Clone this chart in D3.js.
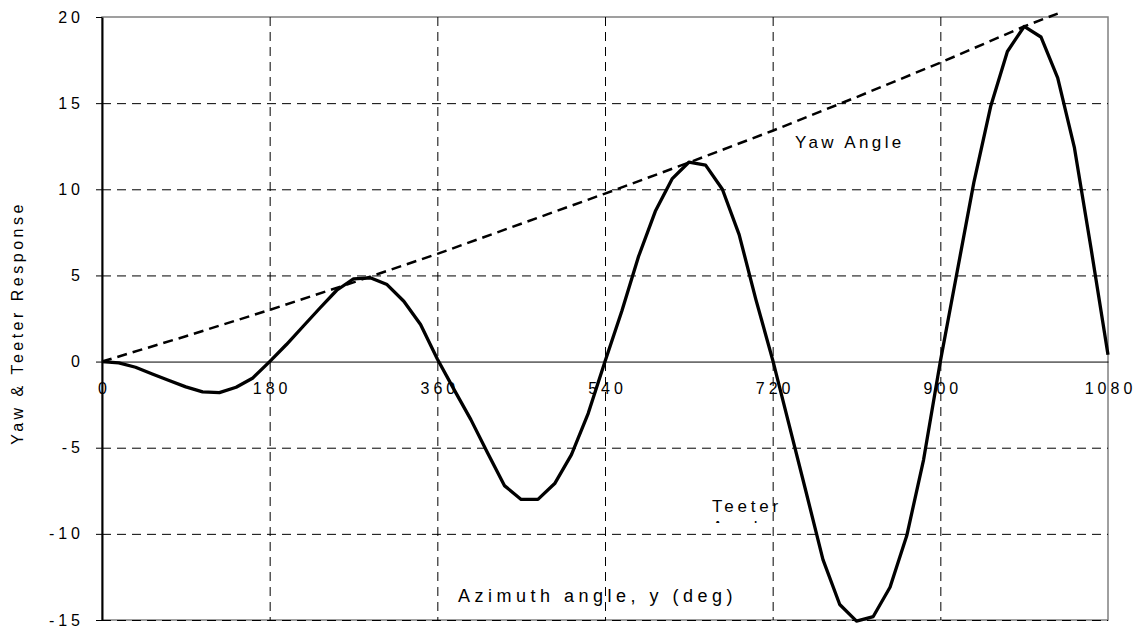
<html>
    <head>
        <meta charset="utf-8">
        <title>Yaw and Teeter Response</title>
        <script type="text/javascript" src="https://cdn.jsdelivr.net/npm/d3@7"></script>
        <style>
            body { margin: 0; background: #fff; }
            text { font-family: "Liberation Sans", Arial, sans-serif; fill: #000; }
        </style>
    </head>
    <body>
        <script type="text/javascript">
            // azimuth samples (deg) for the teeter curve
            var azimuth = [0, 18, 36, 54, 72, 90, 108, 126, 144, 162,
                           180, 198, 216, 234, 252, 270, 288, 306, 324, 342,
                           360, 378, 396, 414, 432, 450, 468, 486, 504, 522,
                           540, 558, 576, 594, 612, 630, 648, 666, 684, 702,
                           720, 738, 756, 774, 792, 810, 828, 846, 864, 882,
                           900, 918, 936, 954, 972, 990, 1008, 1026, 1044, 1062, 1080];
            var teeter = [0, -0.08, -0.33, -0.72, -1.1, -1.47, -1.76, -1.8, -1.49, -0.95,
                          0, 0.99, 2.05, 3.11, 4.14, 4.8, 4.86, 4.47, 3.5, 2.15,
                          0.15, -1.63, -3.37, -5.3, -7.2, -8.0, -8.0, -7.08, -5.4, -3.0,
                          0, 2.92, 6.1, 8.72, 10.6, 11.57, 11.4, 10.0, 7.37, 3.6,
                          0.1, -3.75, -7.6, -11.5, -14.1, -15.07, -14.8, -13.1, -10.1, -5.7,
                          0, 5.2, 10.4, 14.8, 18.0, 19.45, 18.84, 16.47, 12.4, 6.5, 0.4];

            // yaw angle (dashed curve)
            var yawAzimuth = [0, 90, 180, 270, 360, 450, 540, 630, 720, 810, 900, 990, 1026];
            var yaw = [0, 1.47, 3.0, 4.6, 6.25, 8.0, 9.75, 11.55, 13.4, 15.35, 17.35, 19.45, 20.2];

            var xTicks = [0, 180, 360, 540, 720, 900, 1080];
            var yTicks = [-15, -10, -5, 0, 5, 10, 15, 20];

            // make svg element
            var w = 1135;
            var h = 629;
            var m = { left: 102, right: 1108, top: 17, bottom: 620 };

            var svg = d3.select("body").append("svg")
                        .attr("width", w)
                        .attr("height", h);

            var x = d3.scaleLinear().domain([0, 1080]).range([m.left, m.right]);
            var y = d3.scaleLinear().domain([-15, 20]).range([m.bottom, m.top]);

            // plain hyphen minus like the original, not the unicode one
            var plain = function(d) { return String(d); };

            // plot border (grey)
            svg.append("rect")
               .attr("x", m.left).attr("y", m.top)
               .attr("width", m.right - m.left).attr("height", m.bottom - m.top)
               .style("fill", "none")
               .style("stroke", "#808080")
               .style("stroke-width", "1.5px");

            // dashed grid lines
            var gridY = svg.append("g")
                           .attr("class", "grid")
                           .attr("transform", "translate(" + m.left + ",0)")
                           .call(d3.axisLeft(y)
                                   .tickValues([-15, -10, -5, 5, 10, 15])
                                   .tickSize(-(m.right - m.left))
                                   .tickFormat(""));
            gridY.select(".domain").remove();

            var gridX = svg.append("g")
                           .attr("class", "grid")
                           .attr("transform", "translate(0," + m.top + ")")
                           .call(d3.axisBottom(x)
                                   .tickValues([180, 360, 540, 720, 900])
                                   .tickSize(m.bottom - m.top)
                                   .tickFormat(""));
            gridX.select(".domain").remove();

            svg.selectAll(".grid .tick line")
               .style("stroke", "#000")
               .style("stroke-width", "1px")
               .style("stroke-dasharray", "9,6");

            // x axis along zero
            var xAxis = svg.append("g")
                           .attr("transform", "translate(0," + y(0) + ")")
                           .call(d3.axisBottom(x)
                                   .tickValues(xTicks)
                                   .tickFormat(plain)
                                   .tickSize(0)
                                   .tickSizeOuter(0)
                                   .tickPadding(21));
            xAxis.select(".domain").style("stroke", "#000").style("stroke-width", "1px");
            xAxis.selectAll("text")
                 .attr("dx", "2px")
                 .style("font-size", "16px")
                 .style("letter-spacing", "4px");

            // y axis
            var yAxis = svg.append("g")
                           .attr("transform", "translate(" + m.left + ",0)")
                           .call(d3.axisLeft(y)
                                   .tickValues(yTicks)
                                   .tickFormat(plain)
                                   .tickSize(6)
                                   .tickSizeOuter(0)
                                   .tickPadding(12));
            yAxis.select(".domain").style("stroke", "#000").style("stroke-width", "2px");
            yAxis.selectAll(".tick line").style("stroke", "#000");
            yAxis.selectAll("text")
                 .style("font-size", "16px")
                 .style("letter-spacing", "4px");

            // yaw angle line
            var yawLine = d3.line()
                            .x(function(d, i) { return x(yawAzimuth[i]); })
                            .y(function(d) { return y(d); });
            svg.append("path")
               .attr("d", yawLine(yaw))
               .style("fill", "none")
               .style("stroke", "#000")
               .style("stroke-width", "2.5px")
               .style("stroke-dasharray", "10,6");

            // teeter response line
            var teeterLine = d3.line()
                               .x(function(d, i) { return x(azimuth[i]); })
                               .y(function(d) { return y(d); });
            svg.append("path")
               .attr("d", teeterLine(teeter))
               .style("fill", "none")
               .style("stroke", "#000")
               .style("stroke-width", "3.3px")
               .style("stroke-linejoin", "round");

            // labels
            svg.append("text")
               .attr("x", 795).attr("y", 148)
               .style("font-size", "17px")
               .style("letter-spacing", "3.4px")
               .text("Yaw Angle");

            svg.append("text")
               .attr("x", 712).attr("y", 512)
               .style("font-size", "17px")
               .style("letter-spacing", "3.8px")
               .text("Teeter");

            // second line of the teeter label is hidden by the plot, only its tops show
            svg.append("clipPath").attr("id", "angleClip")
               .append("rect").attr("x", 700).attr("y", 500).attr("width", 120).attr("height", 23);
            svg.append("text")
               .attr("x", 712).attr("y", 533)
               .attr("clip-path", "url(#angleClip)")
               .style("font-size", "17px")
               .style("letter-spacing", "3.8px")
               .text("Angle");

            svg.append("text")
               .attr("x", 458).attr("y", 602)
               .style("font-size", "18px")
               .style("letter-spacing", "4.5px")
               .text("Azimuth angle, y (deg)");

            svg.append("text")
               .attr("transform", "translate(23," + 323 + ") rotate(-90)")
               .attr("text-anchor", "middle")
               .style("font-size", "16px")
               .style("letter-spacing", "3.5px")
               .text("Yaw & Teeter Response");
        </script>
    </body>
</html>
